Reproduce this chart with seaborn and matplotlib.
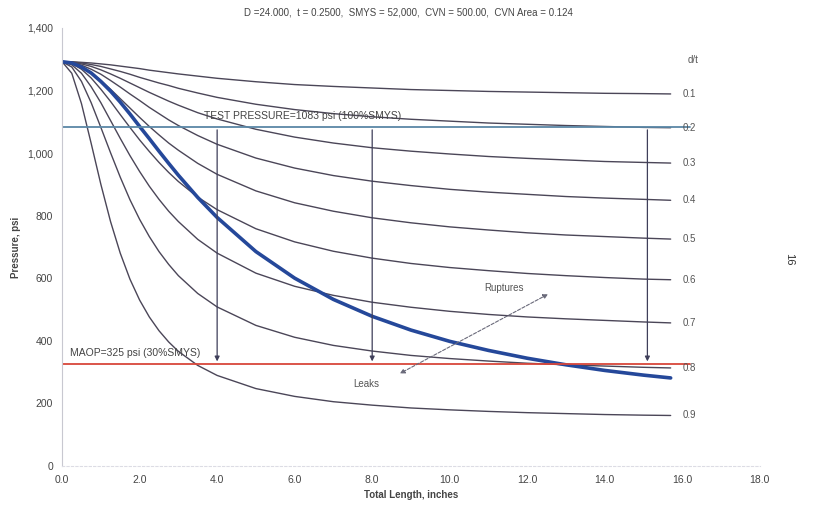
import pandas as pd
import matplotlib.pyplot as plt
import seaborn as sns

# Longitud total de la falla (pulgadas)
length = [0, 0.25, 0.5, 0.75, 1, 1.25, 1.5, 1.75, 2, 2.25, 2.5, 2.75, 3, 3.5, 4,
          5, 6, 7, 8, 9, 10, 11, 12, 13, 14, 15, 15.7]

# Presión de falla (psi) para cada relación d/t
p_01 = [1292, 1292, 1290, 1288, 1285, 1282, 1278, 1274, 1270, 1265, 1261, 1257, 1253, 1246, 1239,
        1228, 1219, 1213, 1208, 1203, 1200, 1197, 1195, 1193, 1191, 1190, 1189]
p_02 = [1292, 1291, 1288, 1283, 1277, 1269, 1261, 1252, 1242, 1233, 1224, 1216, 1207, 1192, 1178,
        1156, 1139, 1126, 1116, 1108, 1102, 1096, 1092, 1088, 1085, 1082, 1081]
p_03 = [1292, 1290, 1285, 1277, 1266, 1253, 1239, 1224, 1209, 1194, 1180, 1166, 1153, 1129, 1109,
        1076, 1051, 1032, 1017, 1006, 997, 989, 983, 978, 973, 970, 968]
p_04 = [1292, 1289, 1281, 1268, 1252, 1232, 1211, 1189, 1168, 1146, 1126, 1106, 1088, 1056, 1028,
        984, 952, 928, 910, 896, 884, 875, 868, 861, 856, 852, 849]
p_05 = [1292, 1288, 1276, 1257, 1232, 1204, 1174, 1144, 1114, 1085, 1058, 1032, 1009, 967, 932,
        879, 841, 814, 793, 777, 764, 754, 745, 738, 733, 728, 725]
p_06 = [1292, 1286, 1268, 1240, 1204, 1165, 1123, 1082, 1042, 1005, 970, 938, 909, 859, 819,
        758, 716, 686, 664, 647, 634, 624, 615, 608, 602, 597, 595]
p_07 = [1292, 1282, 1255, 1212, 1161, 1104, 1047, 992, 941, 894, 852, 814, 781, 724, 680,
        616, 574, 545, 523, 507, 494, 484, 476, 470, 465, 460, 457]
p_08 = [1292, 1275, 1229, 1161, 1082, 1001, 923, 851, 788, 733, 685, 644, 608, 551, 508,
        449, 411, 385, 367, 353, 343, 335, 328, 323, 319, 315, 313]
p_09 = [1292, 1255, 1158, 1031, 900, 781, 680, 597, 530, 476, 432, 396, 366, 321, 289,
        247, 222, 205, 194, 185, 179, 174, 170, 167, 164, 162, 161]
# Curva de falla pasante (fuga / ruptura)
p_through = [1292, 1288, 1275, 1256, 1229, 1198, 1163, 1125, 1085, 1046, 1006, 967, 929, 858, 794,
             685, 600, 532, 478, 434, 398, 369, 344, 323, 305, 290, 281]

dt_labels = ["0.1", "0.2", "0.3", "0.4", "0.5", "0.6", "0.7", "0.8", "0.9"]
dt_curves = [p_01, p_02, p_03, p_04, p_05, p_06, p_07, p_08, p_09]

test_pressure = 1083
maop = 325
arrow_x = [4.0, 8.0, 15.1]

sns.set_style("white")
plt.rcParams['font.family'] = ['Liberation Sans Narrow', 'Liberation Sans', 'DejaVu Sans']

fig = plt.figure(figsize=(8.17, 5.08), dpi=100)
ax = fig.add_axes([0.076, 0.083, 0.854, 0.862])

curve_color = "#4b4658"
for lab, vals in zip(dt_labels, dt_curves):
    sns.lineplot(x=length, y=vals, ax=ax, color=curve_color, linewidth=1.0)
    ax.text(length[-1] + 0.3, vals[-1], lab, fontsize=7, color="#555555", va="center", ha="left")

sns.lineplot(x=length, y=p_through, ax=ax, color="#25489a", linewidth=2.6)

# Líneas de presión de prueba y MAOP
ax.plot([0, 16.2], [test_pressure, test_pressure], color="#5a87a6", linewidth=1.3)
ax.plot([0, 16.2], [maop, maop], color="#d8463a", linewidth=1.3)
ax.text(3.65, 1118, "TEST PRESSURE=1083 psi (100%SMYS)", fontsize=7.5, color="#444444", va="center", ha="left")
ax.text(0.2, 362, "MAOP=325 psi (30%SMYS)", fontsize=7.5, color="#444444", va="center", ha="left")

for xa in arrow_x:
    ax.annotate("", xy=(xa, maop), xytext=(xa, test_pressure),
                arrowprops=dict(arrowstyle="-|>", color="#3f3f5a", lw=0.9, mutation_scale=7))

ax.annotate("", xy=(8.65, 291), xytext=(12.6, 553),
            arrowprops=dict(arrowstyle="<|-|>", color="#6a6a7a", lw=0.8, linestyle=(0, (3, 1.5)), mutation_scale=7))
ax.text(11.4, 569, "Ruptures", fontsize=7, color="#555555", ha="center", va="center")
ax.text(7.85, 262, "Leaks", fontsize=7, color="#555555", ha="center", va="center")
ax.text(16.15, 1297, "d/t", fontsize=7, color="#555555", ha="left", va="center")

ax.set_xlim(0, 18)
ax.set_ylim(0, 1400)
ax.set_xticks(range(0, 19, 2))
ax.set_xticklabels([f"{v:.1f}" for v in range(0, 19, 2)])
ax.set_yticks(range(0, 1401, 200))
ax.set_yticklabels([f"{v:,}" for v in range(0, 1401, 200)])
ax.tick_params(axis="both", labelsize=7.5, length=3, width=0.6)
ax.tick_params(axis="x", colors="#d0d0d8", labelcolor="#444444")
ax.tick_params(axis="y", colors="#c8c8d0", labelcolor="#444444")

for side in ["top", "right"]:
    ax.spines[side].set_visible(False)
ax.spines["left"].set_color("#c8c8d0")
ax.spines["left"].set_linewidth(0.8)
ax.spines["bottom"].set_color("#dcdce4")
ax.spines["bottom"].set_linestyle((0, (2, 2)))
ax.spines["bottom"].set_linewidth(0.8)

ax.set_xlabel("Total Length, inches", fontsize=7, fontweight="bold", color="#444444", labelpad=4)
ax.set_ylabel("Pressure, psi", fontsize=7, fontweight="bold", color="#444444", labelpad=4)

fig.text(0.50, 0.976, "D =24.000,  t = 0.2500,  SMYS = 52,000,  CVN = 500.00,  CVN Area = 0.124",
         fontsize=7, color="#444444", ha="center", va="center")
fig.text(0.966, 0.49, "16", fontsize=8, color="#333333", rotation=-90, ha="center", va="center")

fig.savefig("out.png", dpi=100)
